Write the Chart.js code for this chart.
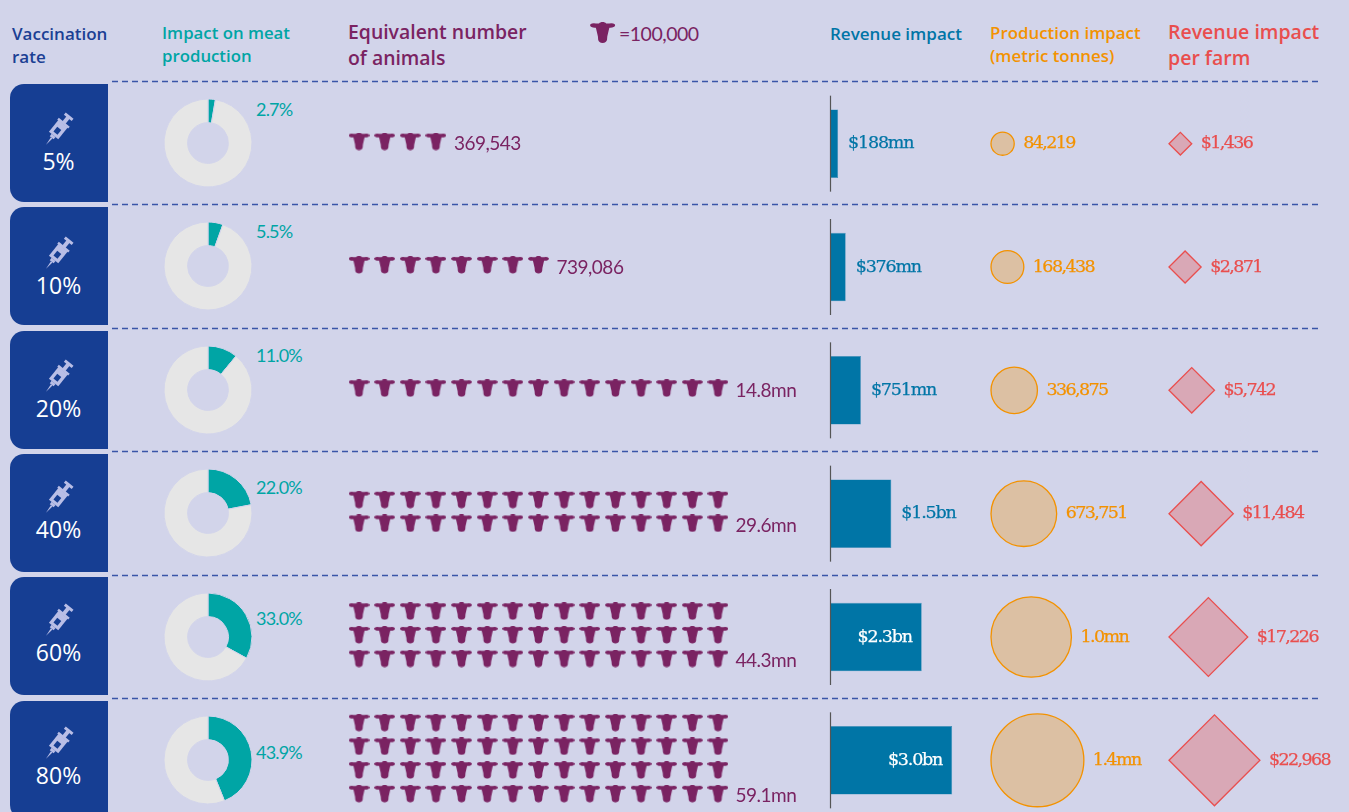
<!DOCTYPE html>
<html><head><meta charset="utf-8">
<script src="https://cdn.jsdelivr.net/npm/chart.js@4"></script>
<style>
html,body{margin:0;padding:0;width:1349px;height:812px;overflow:hidden;background:#D2D4EA}
#page{position:relative;width:1349px;height:812px;overflow:hidden}
canvas{position:absolute}
.t{position:absolute;white-space:nowrap;transform:translateY(-50%);font-family:"Open Sans",sans-serif;line-height:1}
.panel{position:absolute;left:10px;width:97.5px;height:118px;background:#163E93;border-radius:14px 0 0 14px}
svg{position:absolute}
</style></head><body><div id="page">
<svg id="dash" style="left:0;top:0" width="1349" height="812"></svg>
</div>
<script>
const rates=['5%','10%','20%','40%','60%','80%'];
const meatImpact=[2.7,5.5,11.0,22.0,33.0,43.9];
const meatLabels=['2.7%','5.5%','11.0%','22.0%','33.0%','43.9%'];
const cowCounts=[4,8,15,30,45,60];
const animalLabels=['369,543','739,086','14.8mn','29.6mn','44.3mn','59.1mn'];
const revenue=[188,376,751,1502,2253,3004];
const revenueLabels=['$188mn','$376mn','$751mn','$1.5bn','$2.3bn','$3.0bn'];
const production=[84219,168438,336875,673751,1010626,1347502];
const productionLabels=['84,219','168,438','336,875','673,751','1.0mn','1.4mn'];
const perFarm=[1436,2871,5742,11484,17226,22968];
const perFarmLabels=['$1,436','$2,871','$5,742','$11,484','$17,226','$22,968'];

const BG='#D2D4EA',TEAL='#00A5A5',PURPLE='#7A2362',BLUE='#0075A6',ORANGE='#F39200',RED='#E94E4E',NAVY='#1B3F94';
const ROW=123.4,ROW0=143,TOP=82,H=ROW*6;
const page=document.getElementById('page');
const rowY=i=>ROW0+ROW*i;

function txt(x,cy,s,size,color,weight,ls,font){
  const d=document.createElement('div');d.className='t';d.textContent=s;
  d.style.cssText=`left:${x}px;top:${cy}px;font-size:${size}px;color:${color};font-weight:${weight||400};letter-spacing:${ls||0}px;${font?'font-family:'+font+';':''}`;
  page.appendChild(d);return d;
}
function mk(l,t,w,h){const c=document.createElement('canvas');c.width=w;c.height=Math.round(h);c.style.left=l+'px';c.style.top=t+'px';c.style.width=w+'px';c.style.height=Math.round(h)+'px';page.appendChild(c);return c;}

/* dashed rules */
const dash=document.getElementById('dash');
for(let i=0;i<6;i++){const y=Math.round(81+123.4*i)+0.5;
  dash.innerHTML+=`<line x1="112" x2="1318" y1="${y}" y2="${y}" stroke="#3A55A8" stroke-width="1.3" stroke-dasharray="6 4"/>`;}

/* headers */
txt(12,33,'Vaccination',17,NAVY,600,0);txt(12,56,'rate',17,NAVY,600,0);
txt(162,33,'Impact on meat',16.8,TEAL,600,0);txt(162,56,'production',16.8,TEAL,600,0);
txt(348,32,'Equivalent number',19.4,PURPLE,600,0);txt(348,58,'of animals',19.4,PURPLE,600,0);
txt(619,33.5,'=100,000',19.5,PURPLE,400,-0.5,'Lato');
txt(830,32.5,'Revenue impact',17,BLUE,600,0);
txt(990,33,'Production impact',16.9,ORANGE,600,0);txt(990,56,'(metric tonnes)',16.9,ORANGE,600,0);
txt(1168,32,'Revenue impact',19.5,RED,600,0);txt(1168,58,'per farm',19.5,RED,600,0);

/* cow icon */
const COW='M10.5 0C11.8 0 12.9 .5 13.5 1.2L16 1.2Q19 .5 20.6 1.9Q21.4 3 20.2 3.9Q17.8 5.1 16.2 4.7L15.9 5.6L14.4 12L14.2 14.8Q13.7 17.4 10.5 17.4Q7.3 17.4 6.8 14.8L6.6 12L5.1 5.6L4.8 4.7Q3.2 5.1 .8 3.9Q-.4 3 .4 1.9Q2 .5 5 1.2L7.5 1.2C8.1 .5 9.2 0 10.5 0Z';
function cowCanvas(scale){const c=document.createElement('canvas');c.width=Math.ceil(21*scale);c.height=Math.ceil(17.5*scale);
  const x=c.getContext('2d');x.scale(scale,scale);x.fillStyle=PURPLE;x.fill(new Path2D(COW));return c;}
const legendCow=cowCanvas(1.2);legendCow.style.left='590px';legendCow.style.top='22px';page.appendChild(legendCow);

/* panels */
const rateLabelY=[161,285,408,529,652,775];
rates.forEach((r,i)=>{
  const top=84+123.33*i;
  const p=document.createElement('div');p.className='panel';p.style.top=top+'px';page.appendChild(p);
  const s=document.createElementNS('http://www.w3.org/2000/svg','svg');
  s.setAttribute('width','40');s.setAttribute('height','40');s.style.left='38px';s.style.top=(rateLabelY[i]-51.5)+'px';
  s.innerHTML=`<g transform="translate(20,20) rotate(39)" fill="#B9BEE6">
   <rect x="-2" y="-17" width="4" height="9"/><rect x="-5" y="-18.5" width="10" height="3"/>
   <rect x="-7" y="-10" width="14" height="2.5"/><rect x="-6" y="-8" width="12" height="15"/>
   <rect x="-2.5" y="7" width="5" height="3"/><path d="M-1 10L1 10L0 19Z"/>
   <rect x="-2.6" y="-2" width="5.2" height="6" fill="#163E93"/></g>`;
  page.appendChild(s);
  txt(0,rateLabelY[i],r,23,'#fff',400,0).style.cssText+=';width:117px;text-align:center';
});

/* doughnuts */
const labelY=[109,231,355,487,618,752];
meatImpact.forEach((v,i)=>{
  const c=mk(160,Math.round(rowY(i)-48),96,96);
  new Chart(c,{type:'doughnut',data:{datasets:[{data:[v,100-v],backgroundColor:[TEAL,'#E6E6E6'],borderColor:BG,borderWidth:1}]},
    options:{responsive:false,animation:false,events:[],radius:44,cutout:22,plugins:{legend:{display:false},tooltip:{enabled:false}}}});
  txt(256,labelY[i],meatLabels[i],18,TEAL,400,-0.8,'Lato');
});

const base={responsive:false,animation:false,events:[],layout:{padding:0,autoPadding:false},plugins:{legend:{display:false},tooltip:{enabled:false}}};
function drawLabel(ctx,s,x,y,color,font,ls,align,sw){ctx.save();ctx.font=font;ctx.letterSpacing=ls+'px';ctx.fillStyle=color;ctx.textBaseline='middle';ctx.textAlign=align||'left';ctx.fillText(s,x,y);
  if(sw){ctx.strokeStyle=color;ctx.lineWidth=sw;ctx.strokeText(s,x,y);}ctx.restore();}
const SLAB='17.5px "DejaVu Serif"';
const yRows={type:'linear',display:false,bounds:'data',min:-.5,max:5.5,reverse:true};

/* cows */
const COLS=15,STACK=0.192,cowPts=[],lastCow=[];
cowCounts.forEach((n,i)=>{const st=Math.ceil(n/COLS);
  for(let k=0;k<n;k++){const p={x:k%COLS,y:i-0.017+(Math.floor(k/COLS)-(st-1)/2)*STACK};cowPts.push(p);}
  lastCow.push(cowPts.length-1);});
const COLW=25.64,CW=490,xmin=-(359-340)/COLW;
new Chart(mk(340,TOP,CW,H),{type:'scatter',data:{datasets:[{data:cowPts,pointStyle:cowCanvas(1),pointRadius:10,clip:false}]},
  options:{...base,scales:{x:{type:'linear',display:false,bounds:'data',min:xmin,max:xmin+CW/COLW},y:yRows}},
  plugins:[{id:'cowLabels',afterDatasetsDraw(ch){const m=ch.getDatasetMeta(0);animalLabels.forEach((s,i)=>{const e=m.data[lastCow[i]];
    drawLabel(ch.ctx,s,e.x+(i==0?18:i==1?18:17.5),e.y+2.5,PURPLE,'19px Lato',-0.5);});}}]});

/* revenue bars */
const BW=140,PX=0.0405,bmin=-3.5/PX;
new Chart(mk(827,TOP-0.5,BW,H),{type:'bar',data:{labels:rates,datasets:[{data:revenue,backgroundColor:BLUE,borderColor:'#3F8FB8',borderWidth:0.6,barPercentage:.555,categoryPercentage:1}]},
  options:{...base,indexAxis:'y',scales:{x:{type:'linear',display:false,bounds:'data',min:bmin,max:bmin+BW/PX},y:{type:'category',display:false}}},
  plugins:[{id:'revAxis',afterDatasetsDraw(ch){const c=ch.ctx,x=ch.scales.x,y=ch.scales.y,x0=x.getPixelForValue(0);
    c.save();c.strokeStyle='#555';c.lineWidth=1.2;rates.forEach((r,i)=>{const py=y.getPixelForTick(i);c.beginPath();c.moveTo(x0,py-48);c.lineTo(x0,py+48);c.stroke();});c.restore();
    revenueLabels.forEach((s,i)=>{const e=ch.getDatasetMeta(0).data[i];
      if(i<4)drawLabel(c,s,e.x+10,e.y,BLUE,SLAB,-1.2,'left',0.25);else drawLabel(c,s,e.x-10,e.y,'#fff',SLAB,-1.2,'right',0.25);});}}]});

/* production circles and per-farm diamonds */
const rProd=v=>Math.sqrt(v)*0.04;
function shapeChart(left,w,values,rOf,style,fill,stroke,labels,color){
  const pad=5;
  new Chart(mk(left-pad,TOP,w,H),{type:'bubble',data:{datasets:[{data:values.map((v,i)=>({x:rOf(v),y:i,r:rOf(v)})),backgroundColor:fill,borderColor:stroke,borderWidth:1.3,pointStyle:style,clip:false}]},
    options:{...base,scales:{x:{type:'linear',display:false,bounds:'data',min:-pad,max:w-pad},y:yRows}},
    plugins:[{id:'shapeLabels',afterDatasetsDraw(ch){ch.getDatasetMeta(0).data.forEach((e,i)=>{
      drawLabel(ch.ctx,labels[i],e.x+rOf(values[i])+9,e.y,color,SLAB,-1.6,'left',0.25);});}}]});
}
shapeChart(990.5,175,production,rProd,'circle','#DCC0A3',ORANGE,productionLabels,ORANGE);
const rFarm=v=>Math.sqrt(v)*0.3;
shapeChart(1168.5,181,perFarm,rFarm,'rectRot','#D9A8B6',RED,perFarmLabels,RED);
</script></body></html>
